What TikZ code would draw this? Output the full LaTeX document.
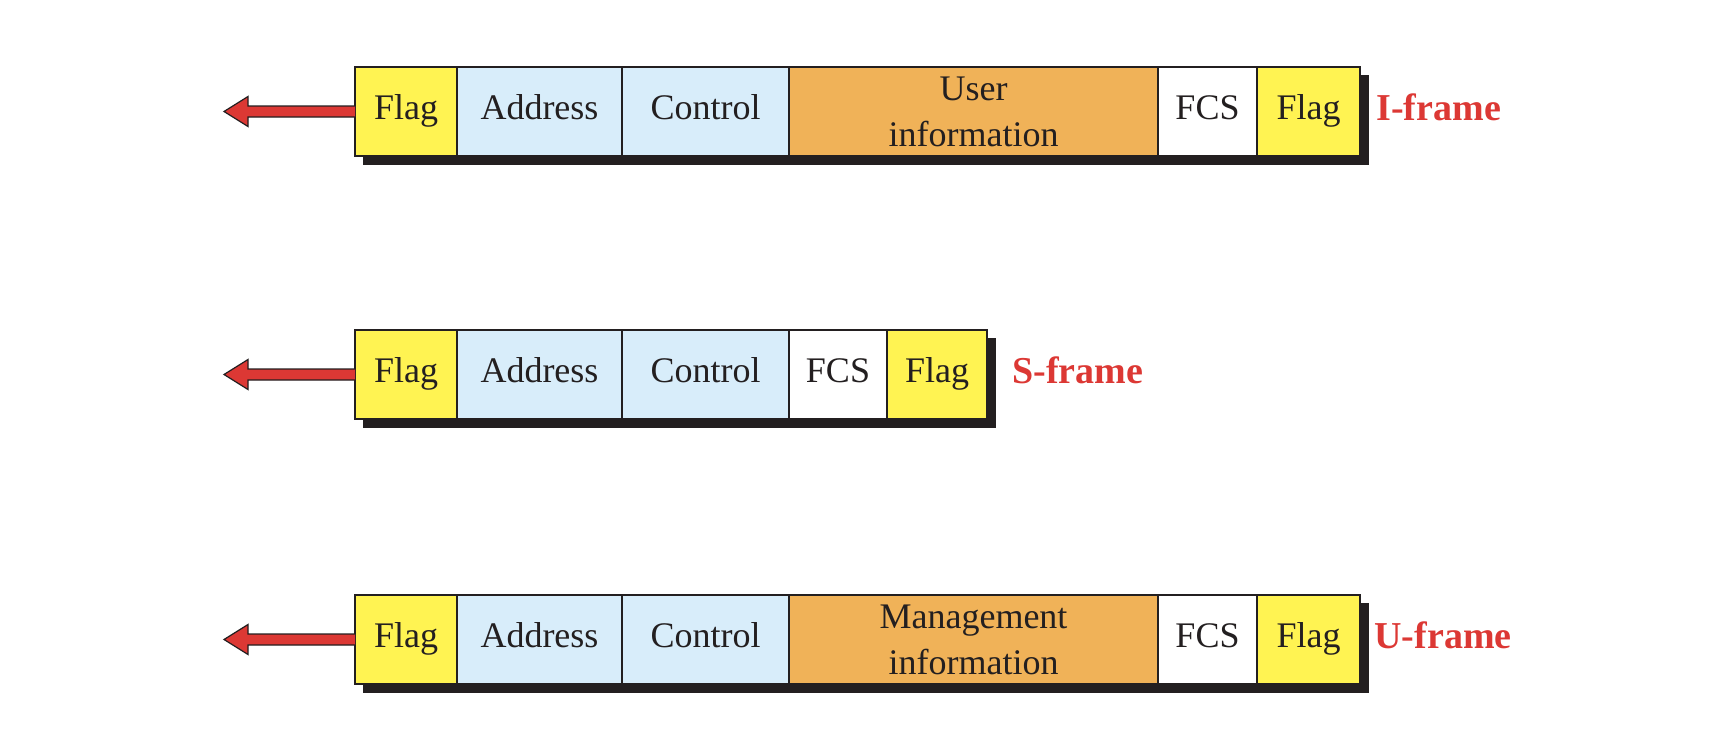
\documentclass[tikz,border=0pt]{standalone}
\usepackage{fontspec}
\setmainfont{Liberation Serif}
\usetikzlibrary{calc}
\definecolor{flagc}{RGB}{255,243,82}
\definecolor{addrc}{RGB}{216,237,250}
\definecolor{infoc}{RGB}{240,178,88}
\definecolor{redc}{RGB}{220,56,52}
\definecolor{shadc}{RGB}{35,31,32}
\begin{document}
\begin{tikzpicture}[x=1pt,y=-1pt,
  field/.style={draw=shadc, line width=1.4pt, minimum height=89pt, inner sep=0pt, outer sep=0pt,
    anchor=north west, font=\fontsize{36}{46}\selectfont, align=center, text=shadc},
  oneline/.style={text height=26pt, text depth=10pt},
  flagf/.style={field, oneline, fill=flagc},
  addrf/.style={field, oneline, fill=addrc},
  infof/.style={field, fill=infoc},
  fcsf/.style={field, oneline, fill=white},
  shadowbox/.style={fill=shadc},
  sendarrow/.style={fill=redc, draw=shadc, line width=1.2pt, line join=miter},
  framelabel/.style={anchor=west, text=redc, text height=26pt, text depth=9pt,
    font=\fontsize{38}{40}\selectfont\bfseries}]
\useasboundingbox (0,0) rectangle (1724,734);

% ---------- I-frame ----------
\fill[shadowbox] (363,75) rectangle (1369,165);
\node[flagf, minimum width=102pt] (if1) at (355,67) {Flag};
\node[addrf, minimum width=165pt] (ia) at (if1.north east) {Address};
\node[addrf, minimum width=167pt] (ic) at (ia.north east) {Control};
\node[infof, minimum width=369pt] (ii) at (ic.north east) {User\\information};
\node[fcsf, minimum width=99pt] (ifcs) at (ii.north east) {FCS};
\node[flagf, minimum width=103pt] (if2) at (ifcs.north east) {Flag};
\node[framelabel] (ilab) at ($(if2.east)+(13,0)$) {I-frame};
\draw[sendarrow] ($(if1.west)+(0,-5.5)$) -- ++(-107,0) -- ++(0,-9.5) -- ++(-24,15)
  -- ++(24,15) -- ++(0,-9.5) -- ($(if1.west)+(0,5.5)$);

% ---------- S-frame ----------
\fill[shadowbox] (363,338) rectangle (996,428);
\node[flagf, minimum width=102pt] (sf1) at (355,330) {Flag};
\node[addrf, minimum width=165pt] (sa) at (sf1.north east) {Address};
\node[addrf, minimum width=167pt] (sc) at (sa.north east) {Control};
\node[fcsf, minimum width=98pt] (sfcs) at (sc.north east) {FCS};
\node[flagf, minimum width=100pt] (sf2) at (sfcs.north east) {Flag};
\node[framelabel] (slab) at ($(sf2.east)+(22,0)$) {S-frame};
\draw[sendarrow] ($(sf1.west)+(0,-5.5)$) -- ++(-107,0) -- ++(0,-9.5) -- ++(-24,15)
  -- ++(24,15) -- ++(0,-9.5) -- ($(sf1.west)+(0,5.5)$);

% ---------- U-frame ----------
\fill[shadowbox] (363,603) rectangle (1369,693);
\node[flagf, minimum width=102pt] (uf1) at (355,595) {Flag};
\node[addrf, minimum width=165pt] (ua) at (uf1.north east) {Address};
\node[addrf, minimum width=167pt] (uc) at (ua.north east) {Control};
\node[infof, minimum width=369pt] (ui) at (uc.north east) {Management\\information};
\node[fcsf, minimum width=99pt] (ufcs) at (ui.north east) {FCS};
\node[flagf, minimum width=103pt] (uf2) at (ufcs.north east) {Flag};
\node[framelabel] (ulab) at ($(uf2.east)+(11,0)$) {U-frame};
\draw[sendarrow] ($(uf1.west)+(0,-5.5)$) -- ++(-107,0) -- ++(0,-9.5) -- ++(-24,15)
  -- ++(24,15) -- ++(0,-9.5) -- ($(uf1.west)+(0,5.5)$);
\end{tikzpicture}
\end{document}
